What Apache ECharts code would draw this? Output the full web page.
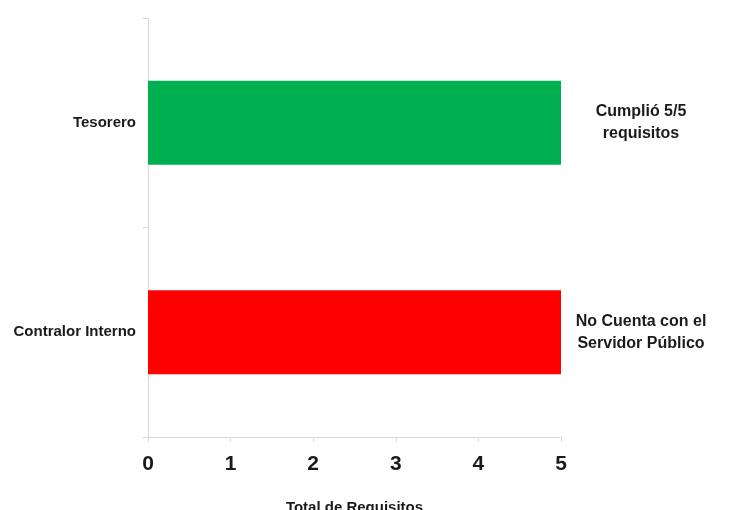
<!DOCTYPE html>
<html><head><meta charset="utf-8">
<script src="https://cdn.jsdelivr.net/npm/echarts@6/dist/echarts.min.js"></script>
<style>html,body{margin:0;padding:0;background:#fff;overflow:hidden}#c{width:729px;height:510px}</style>
</head><body><div id="c"></div>
<script>
var categories = ['Contralor Interno', 'Tesorero'];
var values = [5, 5];
var barColors = ['#ff0000', '#00b050'];
var annotations = ['No Cuenta con el\nServidor Público', 'Cumplió 5/5\nrequisitos'];
var xTicks = [0, 1, 2, 3, 4, 5];
var axisName = 'Total de Requisitos';

var FONT = '"Liberation Sans", Arial, sans-serif';
var chart = echarts.init(document.getElementById('c'), null, { width: 729, height: 510 });
chart.setOption({
  animation: false,
  grid: { left: 148, width: 413, top: 18, height: 419, containLabel: false, outerBoundsMode: 'none' },
  xAxis: {
    type: 'value', min: xTicks[0], max: xTicks[xTicks.length - 1], interval: 1,
    name: axisName, nameLocation: 'middle', nameGap: 63,
    nameTextStyle: { fontFamily: FONT, fontWeight: 'bold', fontSize: 15, color: '#1a1a1a' },
    axisLine: { show: true, lineStyle: { color: '#d9d9d9', width: 1 } },
    axisTick: { show: true, length: 5, lineStyle: { color: '#d9d9d9' } },
    axisLabel: { fontFamily: FONT, fontWeight: 'bold', fontSize: 21, color: '#1a1a1a', margin: 17 },
    splitLine: { show: false }
  },
  yAxis: {
    type: 'category', data: categories,
    axisLine: { show: true, lineStyle: { color: '#d9d9d9', width: 1 } },
    axisTick: { show: true, length: 5, inside: false, lineStyle: { color: '#d9d9d9' } },
    axisLabel: { fontFamily: FONT, fontWeight: 'bold', fontSize: 15, color: '#1a1a1a', margin: 12 }
  },
  series: [{
    type: 'bar',
    barWidth: '40%',
    data: values.map(function (v, i) {
      return {
        value: v,
        itemStyle: { color: barColors[i] },
        label: {
          show: true, position: 'right', distance: 80, align: 'center',
          formatter: annotations[i], fontFamily: FONT, fontWeight: 'bold',
          fontSize: 16, lineHeight: 22, color: '#1a1a1a'
        }
      };
    })
  }]
});
</script></body></html>
